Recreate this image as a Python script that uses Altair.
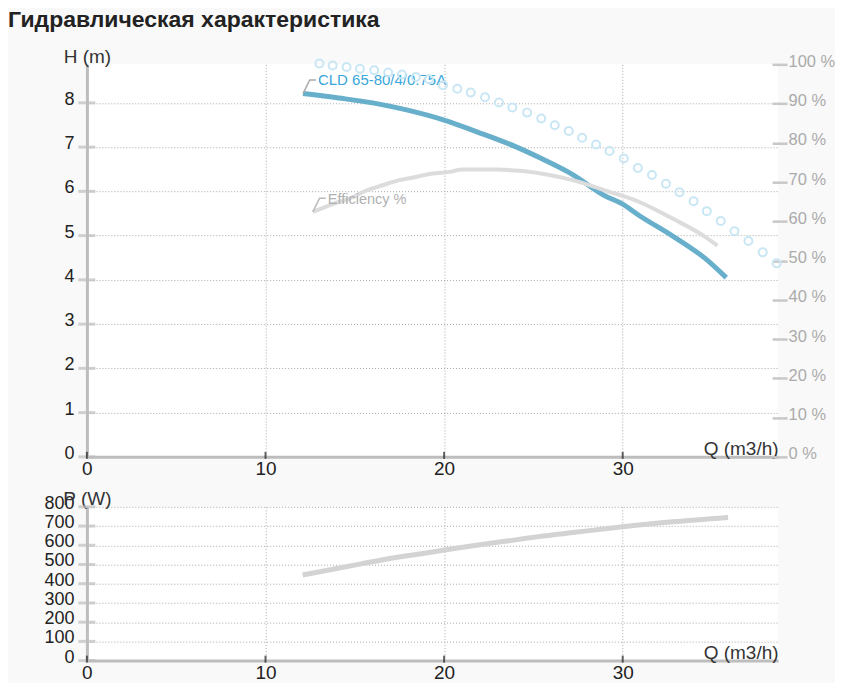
import altair as alt
import pandas as pd

# ---------------- data ----------------
TITLE = "Гидравлическая характеристика"
H_LABEL = "CLD 65-80/4/0.75A"
EFF_LABEL = "Efficiency %"

Q_H = [12.1, 14.1, 16.0, 17.9, 20.0, 21.8, 24.0, 25.3, 27.2, 29.0, 30.0, 30.9, 32.8, 34.6, 35.8]
H = [8.21, 8.11, 8.00, 7.84, 7.61, 7.35, 7.01, 6.77, 6.38, 5.90, 5.71, 5.46, 4.99, 4.49, 4.05]

Q_EFF = [12.65, 13.76, 14.69, 15.62, 16.55, 17.49, 18.42, 19.35, 20.3, 21.0, 22.9, 24.4,
         25.9, 27.2, 29.0, 30.9, 32.8, 34.6, 35.3]
EFF = [62.4, 64.4, 65.8, 67.8, 69.2, 70.5, 71.3, 72.2, 72.6, 73.2, 73.2, 72.8,
       71.8, 70.5, 67.9, 65.0, 60.7, 56.1, 53.8]

Q_C = [13.02, 13.76, 14.54, 15.29, 16.09, 16.87, 17.64, 18.42, 19.16, 19.94, 20.74, 21.49,
       22.29, 23.07, 23.82, 24.65, 25.44, 26.20, 26.98, 27.73, 28.51, 29.26, 30.06, 30.85,
       31.64, 32.42, 33.18, 33.97, 34.71, 35.49, 36.26, 37.04, 37.84, 38.62]
C = [100.2, 99.7, 99.3, 98.9, 98.5, 97.9, 97.4, 96.8, 96.2, 94.7, 93.8, 92.8,
     91.6, 90.3, 89.0, 87.7, 86.2, 84.5, 83.0, 81.3, 79.6, 77.9, 76.0, 73.6,
     71.8, 69.6, 67.4, 65.1, 62.6, 60.1, 57.5, 55.0, 52.1, 49.3]

Q_P = [12.08, 13.48, 15.35, 17.2, 19.07, 20.0, 22.1, 24.0, 25.3, 27.2, 30.0, 32.8, 35.9]
P = [445, 470, 503, 535, 561, 575, 604, 628, 645, 666, 696, 722, 745]

Q_TICKS = [0, 10, 20, 30]
H_TICKS = [0, 1, 2, 3, 4, 5, 6, 7, 8]
PCT_TICKS = [0, 10, 20, 30, 40, 50, 60, 70, 80, 90, 100]
P_TICKS = [0, 100, 200, 300, 400, 500, 600, 700, 800]

# ---------------- styling ----------------
W, H1, H2 = 692, 393, 154
FONT = "Liberation Sans"
AXIS_GRAY = "#bdbdbd"
GRID = dict(grid=True, gridColor="#a8a8a8", gridDash=[1, 2], gridWidth=1)
CONNECTOR = "M0,0L0.48,-0.97L0.93,-0.97"

xscale = alt.Scale(domain=[0, 38.7], nice=False, zero=False)
hscale = alt.Scale(domain=[0, 8.87], nice=False)
pctscale = alt.Scale(domain=[0, 100], nice=False)
wscale = alt.Scale(domain=[0, 800], nice=False)


def x_axis():
    return alt.Axis(values=Q_TICKS, title="Q (m3/h)", titleX=W, titleY=-2, titleAlign="right",
                    titleBaseline="alphabetic", titleFontSize=19, titleFontWeight="normal",
                    titleColor="#333", labelFontSize=19, labelColor="#222", labelPadding=2.5,
                    labelBaseline="top", labelFlush=False, labelOverlap=False, ticks=False,
                    tickSize=0, domainColor=AXIS_GRAY, domainWidth=3, **GRID)


def y_axis(values, title):
    return alt.Axis(values=values, title=title, titleAngle=0, titleX=0, titleY=-2,
                    titleAlign="center", titleBaseline="alphabetic", titleFontSize=19,
                    titleFontWeight="normal", titleColor="#333", labelFontSize=18,
                    labelColor="#222", labelPadding=13, labelAlign="right",
                    labelBaseline="alphabetic", labelOffset=1.5, labelFlush=False,
                    labelOverlap=False, ticks=False, tickSize=0, domainColor=AXIS_GRAY,
                    domainWidth=3, **GRID)


XA = x_axis()
HA = y_axis(H_TICKS, "H (m)")
WA = y_axis(P_TICKS, "P (W)")
PA = alt.Axis(orient="right", values=PCT_TICKS, labelExpr="datum.value + ' %'", offset=-6,
              ticks=True, tickSize=15, tickColor="#c8c8c8", tickWidth=2.5, domain=False,
              grid=False, labelPadding=1, labelAlign="left", labelBaseline="alphabetic",
              labelOffset=2, labelFontSize=16.5, labelColor="#ababab", labelFlush=False,
              labelOverlap=False, title=None)

h_df = pd.DataFrame({"Q": Q_H, "H": H})
eff_df = pd.DataFrame({"Q": Q_EFF, "E": EFF})
c_df = pd.DataFrame({"Q": Q_C, "C": C})
p_df = pd.DataFrame({"Q": Q_P, "P": P})
qt_df = pd.DataFrame({"Q": Q_TICKS})
ht_df = pd.DataFrame({"H": H_TICKS})
pt_df = pd.DataFrame({"P": P_TICKS})
h_lab = pd.DataFrame({"Q": [Q_H[0]], "H": [H[0]], "t": [H_LABEL]})
e_lab = pd.DataFrame({"Q": [Q_EFF[0]], "E": [EFF[0]], "t": [EFF_LABEL]})
title_df = pd.DataFrame({"t": [TITLE]})

X = alt.X("Q:Q", scale=xscale, axis=XA)
YH = alt.Y("H:Q", scale=hscale, axis=HA)

# ---------------- upper chart: H (left) ----------------
h_line = alt.Chart(h_df).mark_line(color="#67afca", strokeWidth=5,
                                   interpolate="monotone").encode(x=X, y=YH)
h_yticks = alt.Chart(ht_df).mark_tick(orient="horizontal", size=17, thickness=3,
                                      color=AXIS_GRAY).encode(x=alt.value(0), y=YH)
h_xticks = alt.Chart(qt_df).mark_tick(orient="vertical", size=7, thickness=2,
                                      color="#222").encode(x=X, y=alt.value(H1 - 1.5))
h_conn = alt.Chart(h_lab).mark_point(shape=CONNECTOR, size=784, color="#aaaaaa",
                                     strokeWidth=1.5, filled=False, opacity=1).encode(x=X, y=YH)
h_text = alt.Chart(h_lab).mark_text(align="left", baseline="alphabetic", dx=15, dy=-9,
                                    fontSize=15, color="#3aa6d9").encode(x=X, y=YH, text="t:N")
title_text = alt.Chart(title_df).mark_text(align="left", baseline="alphabetic", fontSize=23,
                                           fontWeight="bold", color="#222").encode(
    x=alt.value(-79), y=alt.value(-37.4), text="t:N")

left_group = alt.layer(h_line, h_yticks, h_xticks, h_conn, h_text, title_text)

# ---------------- upper chart: % (right) ----------------
YE = alt.Y("E:Q", scale=pctscale, axis=PA)
YC = alt.Y("C:Q", scale=pctscale, axis=PA)
eff_line = alt.Chart(eff_df).mark_line(color="#dcdcdc", strokeWidth=4,
                                       interpolate="monotone").encode(x=X, y=YE)
circles = alt.Chart(c_df).mark_point(shape="circle", size=64, filled=False, color="#c9e6f4",
                                     strokeWidth=2, opacity=1).encode(x=X, y=YC)
e_conn = alt.Chart(e_lab).mark_point(shape=CONNECTOR, size=784, color="#bbbbbb",
                                     strokeWidth=1.5, filled=False, opacity=1).encode(x=X, y=YE)
e_text = alt.Chart(e_lab).mark_text(align="left", baseline="alphabetic", dx=15, dy=-8.4,
                                    fontSize=14.5, color="#b0b0b0").encode(x=X, y=YE, text="t:N")

right_group = alt.layer(eff_line, circles, e_conn, e_text)

upper = alt.layer(left_group, right_group).resolve_scale(y="independent").properties(
    width=W, height=H1)

# ---------------- lower chart: power ----------------
YP = alt.Y("P:Q", scale=wscale, axis=WA)
p_line = alt.Chart(p_df).mark_line(color="#d3d3d3", strokeWidth=5,
                                   interpolate="monotone").encode(x=X, y=YP)
p_yticks = alt.Chart(pt_df).mark_tick(orient="horizontal", size=17, thickness=3,
                                      color=AXIS_GRAY).encode(x=alt.value(0), y=YP)
p_xticks = alt.Chart(qt_df).mark_tick(orient="vertical", size=7, thickness=2,
                                      color="#222").encode(x=X, y=alt.value(H2 - 1.5))

lower = alt.layer(p_line, p_yticks, p_xticks).properties(width=W, height=H2)

chart = alt.vconcat(upper, lower, spacing=50, bounds="flush").properties(
    padding={"left": 0, "top": 0, "right": 0, "bottom": 0},
    background="#f9f9f9",
).configure(font=FONT).configure_view(strokeWidth=0, fill="white")

chart.save("out.html", embed_options={"renderer": "svg", "actions": False})
